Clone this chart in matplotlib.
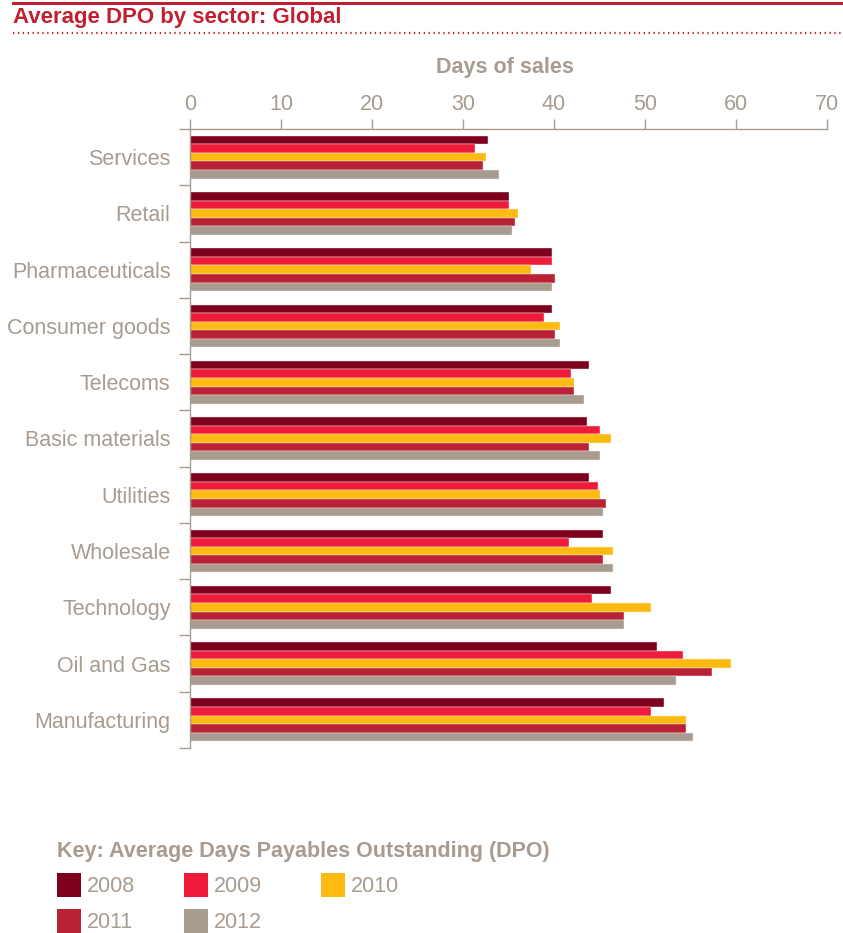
import numpy as np
import matplotlib
matplotlib.use("Agg")
from matplotlib import pyplot as plt
from matplotlib.lines import Line2D
from matplotlib.patches import Rectangle

plt.rcParams['font.family'] = ['Liberation Sans', 'DejaVu Sans']

# Average DPO (days of sales) per sector, top to bottom
sectors = ["Services", "Retail", "Pharmaceuticals", "Consumer goods", "Telecoms",
           "Basic materials", "Utilities", "Wholesale", "Technology",
           "Oil and Gas", "Manufacturing"]
years = ["2008", "2009", "2010", "2011", "2012"]

dpo_2008 = [32.8, 35.1, 39.8, 39.8, 43.9, 43.6, 43.9, 45.4, 46.3, 51.3, 52.1]
dpo_2009 = [31.3, 35.1, 39.8, 38.9, 41.9, 45.1, 44.8, 41.6, 44.2, 54.2, 50.7]
dpo_2010 = [32.5, 36.0, 37.5, 40.7, 42.2, 46.3, 45.1, 46.5, 50.7, 59.5, 54.5]
dpo_2011 = [32.2, 35.7, 40.1, 40.1, 42.2, 43.9, 45.7, 45.4, 47.7, 57.4, 54.5]
dpo_2012 = [34.0, 35.4, 39.8, 40.7, 43.3, 45.1, 45.4, 46.5, 47.7, 53.4, 55.3]

series = [dpo_2008, dpo_2009, dpo_2010, dpo_2011, dpo_2012]
colours = ["#7e001c", "#ee1c3a", "#fdbb11", "#b92234", "#a89b90"]

red = "#c0202f"
grey = "#a89b90"
fs = 15.5

fig = plt.figure(figsize=(8.43, 9.33), dpi=100)
W, H = 843.0, 933.0
ax = fig.add_axes([190 / W, 1 - 748 / H, 637 / W, 619 / H])

y = np.arange(len(sectors))
h = 0.152
for i, (vals, c) in enumerate(zip(series, colours)):
    ax.barh(y + (i - 2) * h, vals, height=h, color=c,
            edgecolor="#f4eeee", linewidth=0.3)

ax.set_xlim(0, 70)
ax.set_ylim(10.5, -0.5)

ax.xaxis.tick_top()
ax.set_xticks(np.arange(0, 71, 10))
ax.tick_params(axis="x", direction="out", length=7, width=1, color=grey,
               labelcolor=grey, labelsize=fs, pad=3)

ax.set_yticks(y)
ax.set_yticklabels(sectors)
ax.set_yticks(np.arange(-0.5, 10.6, 1), minor=True)
ax.tick_params(axis="y", which="major", length=0, labelcolor=grey,
               labelsize=fs, pad=14)
ax.tick_params(axis="y", which="minor", direction="out", length=8, width=1,
               color=grey)

for s in ["right", "bottom"]:
    ax.spines[s].set_visible(False)
for s in ["top", "left"]:
    ax.spines[s].set_color(grey)
    ax.spines[s].set_linewidth(1)

# header: title with solid rule above and dotted rule below
fig.add_artist(Line2D([13 / W, 1.0], [1 - 2.5 / H] * 2, color=red, lw=2.2))
fig.text(13 / W, 1 - 18 / H, "Average DPO by sector: Global", color=red,
         fontsize=16, fontweight="bold", va="center", ha="left")
fig.add_artist(Line2D([13 / W, 1.0], [1 - 33 / H] * 2, color=red, lw=1.6,
                      linestyle=(0, (0.6, 1.6))))

fig.text(505 / W, 1 - 68 / H, "Days of sales", color=grey, fontsize=fs,
         fontweight="bold", ha="center", va="center")

# key
fig.text(57 / W, 1 - 852 / H, "Key: Average Days Payables Outstanding (DPO)",
         color=grey, fontsize=fs, fontweight="bold", ha="left", va="center")
key_pos = [(57, 873), (184, 873), (321, 873), (57, 909), (184, 909)]
for (kx, ky), c, yr in zip(key_pos, colours, years):
    fig.add_artist(Rectangle((kx / W, 1 - (ky + 24) / H), 24 / W, 24 / H,
                             facecolor=c, edgecolor="none"))
    fig.text((kx + 30) / W, 1 - (ky + 13) / H, yr, color=grey, fontsize=fs,
             ha="left", va="center")

fig.savefig("out.png", dpi=100)
